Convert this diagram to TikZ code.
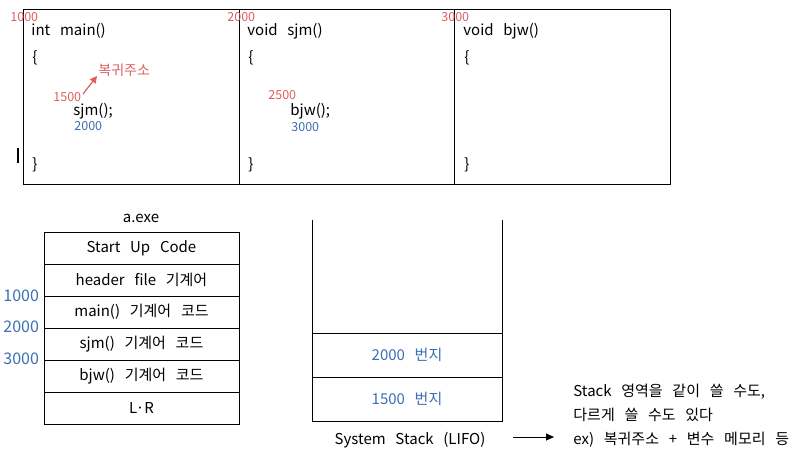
\documentclass[tikz,border=0pt]{standalone}
\usepackage{fontspec}
\setmainfont[WordSpace=1.45]{Noto Sans CJK KR}
\usetikzlibrary{arrows.meta}
\definecolor{rnum}{RGB}{222,95,95}
\definecolor{bnum}{RGB}{60,110,180}
\begin{document}
\begin{tikzpicture}[x=1pt,y=-1pt,
  code/.style={anchor=west,inner sep=0pt,font=\fontsize{15}{17}\selectfont},
  rsmall/.style={anchor=west,inner sep=0pt,text=rnum,font=\fontsize{12.5}{14}\selectfont},
  bsmall/.style={anchor=west,inner sep=0pt,text=bnum,font=\fontsize{12.5}{14}\selectfont},
  cell/.style={inner sep=0pt,font=\fontsize{15}{17}\selectfont},
  addr/.style={anchor=west,inner sep=0pt,text=bnum,font=\fontsize{16}{18}\selectfont},
  line width=0.8pt]
\useasboundingbox (0,0) rectangle (798,454);
% top code boxes
\draw (23,9) rectangle (670,184);
\draw (239,9) -- (239,184);
\draw (454,9) -- (454,184);
\draw[line width=1.2pt] (18,148) -- (18,163);
% main
\node[rsmall] (n1000) at (10,17) {1000};
\node[code] (mainf) at (31,31) {int\ \ main()};
\node[code] (mainob) at (32,58) {\{};
\node[rsmall,font=\fontsize{14}{15}\selectfont] (ret) at (98,70) {복귀주소};
\node[rsmall] (n1500) at (53,97) {1500};
\node[code] (callsjm) at (73,111) {sjm();};
\node[bsmall] (b2000) at (74,126) {2000};
\node[code] (maincb) at (32,165) {\}};
\coordinate (arrs) at (83,94);
\coordinate (arre) at (97,76);
\draw[-{Triangle[length=7pt,width=7pt]},rnum,line width=1.2pt] (arrs) -- (arre);
% sjm
\node[rsmall] (n2000) at (227,17) {2000};
\node[code] (sjmf) at (247,31) {void\ \ sjm()};
\node[code] (sjmob) at (248,58) {\{};
\node[rsmall] (n2500) at (268,95) {2500};
\node[code] (callbjw) at (290,111) {bjw();};
\node[bsmall] (b3000) at (291,127) {3000};
\node[code] (sjmcb) at (248,165) {\}};
% bjw
\node[rsmall] (n3000) at (441,17) {3000};
\node[code] (bjwf) at (463,31) {void\ \ bjw()};
\node[code] (bjwob) at (464,58) {\{};
\node[code] (bjwcb) at (464,165) {\}};
% a.exe
\node[cell] (aexe) at (141,218) {a.exe};
\draw (44,232) rectangle (239,424);
\foreach \y in {264,296,328,360,392} \draw (44,\y) -- (239,\y);
\node[cell] (c1) at (141.5,248) {Start\ \ Up\ \ Code};
\node[cell] (c2) at (141.5,280) {header\ \ file\ \ 기계어};
\node[cell] (c3) at (141.5,312) {main()\ \ 기계어\ \ 코드};
\node[cell] (c4) at (141.5,344) {sjm()\ \ 기계어\ \ 코드};
\node[cell] (c5) at (141.5,376) {bjw()\ \ 기계어\ \ 코드};
\node[cell] (c6) at (141.5,408) {L·R};
\node[addr] (a1) at (3,296) {1000};
\node[addr] (a2) at (3,327) {2000};
\node[addr] (a3) at (3,359) {3000};
% stack
\draw (312,220) -- (312,421) -- (502,421) -- (502,220);
\draw (312,333) -- (502,333);
\draw (312,377) -- (502,377);
\node[cell,text=bnum] (s1) at (407,355) {2000\ \ 번지};
\node[cell,text=bnum] (s2) at (407,399) {1500\ \ 번지};
\node[cell] (stk) at (410,440) {System\ \ Stack\ \ (LIFO)};
\node[code] (t1) at (573,392) {Stack\ \ 영역을\ \ 같이\ \ 쓸\ \ 수도,};
\node[code] (t2) at (573,415) {다르게\ \ 쓸\ \ 수도\ \ 있다};
\node[code] (t3) at (573,440) {ex)\ \ 복귀주소\ \ +\ \ 변수\ \ 메모리\ \ 등};
\coordinate (arst) at (513,437);
\coordinate (aren) at (554,437);
\draw[-{Triangle[length=8pt,width=7pt]},line width=0.9pt] (arst) -- (aren);
\end{tikzpicture}
\end{document}
